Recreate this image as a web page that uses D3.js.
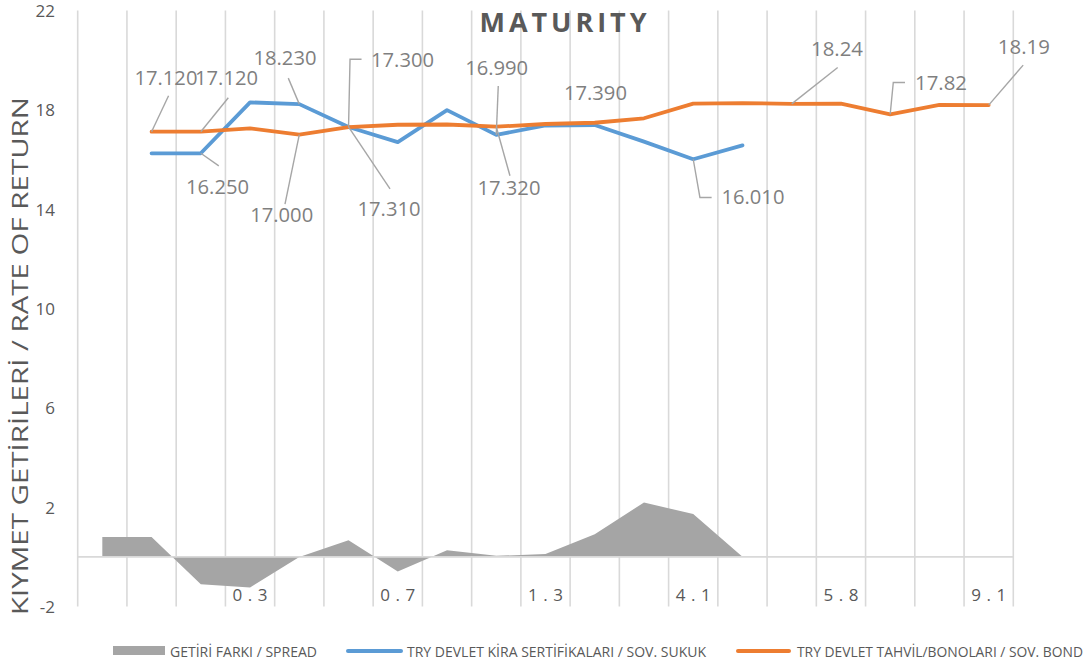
<!DOCTYPE html>
<html><head><meta charset="utf-8">
<script src="https://cdn.jsdelivr.net/npm/d3@7"></script>
<style>
html,body{margin:0;padding:0;background:#fff;}
svg{display:block;font-family:"Open Sans","Noto Sans",sans-serif;}
</style></head>
<body>
<svg id="chart" width="1086" height="663"></svg>
<script>
// ---- data ----
const categoryLabels = ["", "", "", "0.3", "", "", "0.7", "", "", "1.3", "", "", "4.1", "", "", "5.8", "", "", "9.1"];
const spread = [0.80, 0.80, -1.10, -1.23, -0.01, 0.67, -0.59, 0.27, 0.04, 0.11, 0.91, 2.19, 1.72, 0, null, null, null, null, null];
const sukuk  = [null, 16.25, 16.25, 18.30, 18.23, 17.31, 16.70, 17.99, 16.99, 17.37, 17.39, 16.72, 16.01, 16.57, null, null, null, null, null];
const bond   = [null, 17.12, 17.12, 17.25, 17.00, 17.30, 17.40, 17.41, 17.32, 17.43, 17.48, 17.66, 18.25, 18.27, 18.24, 18.25, 17.82, 18.20, 18.19];
const yTicks = [-2, 2, 6, 10, 14, 18, 22];
const seriesNames = ["GETİRİ FARKI / SPREAD", "TRY DEVLET KİRA SERTİFİKALARI / SOV. SUKUK", "TRY DEVLET TAHVİL/BONOLARI / SOV. BOND"];
const titleText = "MATURITY";
const yTitle = "KIYMET GETİRİLERİ / RATE OF RETURN";
// data label layout: which point, text offset and leader path (offsets from point)
const dataLabels = [
  {s:"bond",  i:1,  dec:3, dx:14.4, dy:-46.5, leader:[[17,-36]]},
  {s:"bond",  i:2,  dec:3, dx:25.7, dy:-46.5, leader:[[27.5,-34]]},
  {s:"sukuk", i:2,  dec:3, dx:16.7, dy:41,    leader:[[18,12.6]]},
  {s:"sukuk", i:4,  dec:3, dx:-14.3,dy:-39.3, leader:[[-11,-26]]},
  {s:"bond",  i:4,  dec:3, dx:-17.6,dy:87.5,  leader:[[-14.3,69.5]]},
  {s:"bond",  i:5,  dec:3, dx:54,   dy:-60,   leader:[[1.5,-68],[13,-68]]},
  {s:"sukuk", i:5,  dec:3, dx:40.5, dy:89,    leader:[[41.5,62]]},
  {s:"sukuk", i:8,  dec:3, dx:0.4,  dy:-59.7, leader:[[2,-49]]},
  {s:"bond",  i:8,  dec:3, dx:12.7, dy:68.4,  leader:[[13.7,49]]},
  {s:"sukuk", i:10, dec:3, dx:0.7,  dy:-25.2, leader:[]},
  {s:"sukuk", i:12, dec:3, dx:59.7, dy:45,    leader:[[6.7,38.2],[18.4,38.2]]},
  {s:"bond",  i:14, dec:2, dx:45.3, dy:-48,   leader:[[46,-36.4]]},
  {s:"bond",  i:16, dec:2, dx:50.8, dy:-24,   leader:[[3.1,-31.8],[14.8,-31.8]]},
  {s:"bond",  i:18, dec:2, dx:35.2, dy:-51,   leader:[[34.5,-40]]}
];

// ---- layout ----
const svg = d3.select("#chart");
const pLeft = 77.7, pRight = 1013.3, pTop = 10.5, pBottom = 606.5;
const idx = d3.range(categoryLabels.length);
const x = d3.scaleBand().domain(idx).range([pLeft, pRight]).padding(0);
const cx = i => x(i) + x.bandwidth() / 2;
const y = d3.scaleLinear().domain([-2, 22]).range([pBottom, pTop]);
const C = {grid:"#d9d9d9", text:"#595959", label:"#7f7f7f", leader:"#a6a6a6",
           spread:"#a5a5a5", sukuk:"#5b9bd5", bond:"#ed7d31"};

// vertical gridlines at band edges
const edges = idx.map(i => x(i)).concat([pRight]);
svg.append("g").selectAll("line").data(edges).join("line")
  .attr("x1", d => d).attr("x2", d => d).attr("y1", pTop).attr("y2", pBottom)
  .attr("stroke", C.grid).attr("stroke-width", 1.6);

// area (spread)
const area = d3.area().defined(d => d.v !== null)
  .x(d => cx(d.i)).y0(y(0)).y1(d => y(d.v));
svg.append("path").datum(spread.map((v, i) => ({i, v})))
  .attr("d", area).attr("fill", C.spread);

// zero line
svg.append("line").attr("x1", pLeft).attr("x2", pRight).attr("y1", y(0)).attr("y2", y(0))
  .attr("stroke", C.grid).attr("stroke-width", 1.6);

// y axis ticks (labels only)
const yAxis = d3.axisLeft(y).tickValues(yTicks).tickSize(0).tickPadding(0).tickFormat(d => String(d));
const gy = svg.append("g").attr("transform", "translate(55,0)").call(yAxis);
gy.select(".domain").remove();
gy.selectAll("text").attr("fill", C.text).style("font-size", "17px")
  .style("font-family", "'Open Sans',sans-serif").attr("dy", "0.35em");

// x axis labels
const xAxis = d3.axisBottom(x).tickSize(0).tickPadding(0).tickFormat(i => categoryLabels[i]);
const gx = svg.append("g").attr("transform", `translate(0,${pBottom - 6})`).call(xAxis);
gx.select(".domain").remove();
gx.selectAll("text").attr("fill", C.text).style("font-size", "17px")
  .style("font-family", "'Open Sans',sans-serif").attr("dy", 0)
  .each(function(i){ if (categoryLabels[i]) { d3.select(this).attr("textLength", 35).attr("lengthAdjust", "spacing"); } });

// lines
const line = d3.line().defined(d => d.v !== null).x(d => cx(d.i)).y(d => y(d.v));
const seriesData = {sukuk, bond};
[["sukuk", C.sukuk], ["bond", C.bond]].forEach(([k, col]) => {
  svg.append("path").datum(seriesData[k].map((v, i) => ({i, v})))
    .attr("d", line).attr("fill", "none").attr("stroke", col).attr("stroke-width", 3.8)
    .attr("stroke-linejoin", "round").attr("stroke-linecap", "round");
});

// data labels with leader lines
const gl = svg.append("g");
dataLabels.forEach(L => {
  const v = seriesData[L.s][L.i];
  const px = cx(L.i), py = y(v);
  if (L.leader.length) {
    const pts = [[px, py]].concat(L.leader.map(([ox, oy]) => [px + ox, py + oy]));
    gl.append("path").attr("d", d3.line()(pts)).attr("fill", "none")
      .attr("stroke", C.leader).attr("stroke-width", 1.4);
  }
  const txt = v.toFixed(L.dec);
  gl.append("text").attr("x", px + L.dx).attr("y", py + L.dy)
    .attr("text-anchor", "middle").attr("fill", C.label)
    .style("font-size", "20px")
    .attr("textLength", txt.length === 6 ? 63 : 52).attr("lengthAdjust", "spacingAndGlyphs")
    .text(txt);
});

// title
svg.append("text").attr("x", 563).attr("y", 32).attr("text-anchor", "middle")
  .attr("fill", C.text).style("font-size", "27px").style("font-weight", "bold")
  .attr("textLength", 167).attr("lengthAdjust", "spacing").text(titleText);

// y title
svg.append("text").attr("transform", "translate(28,356) rotate(-90)")
  .attr("text-anchor", "middle").attr("fill", C.text).style("font-size", "21px")
  .attr("textLength", 518).attr("lengthAdjust", "spacingAndGlyphs").text(yTitle);

// legend
const legendItems = [
  {name: seriesNames[0], type: "rect", col: C.spread, sx: 113, sw: 52, tx: 170, tw: 147},
  {name: seriesNames[1], type: "line", col: C.sukuk,  sx: 348, sw: 53, tx: 407, tw: 299},
  {name: seriesNames[2], type: "line", col: C.bond,   sx: 738, sw: 51, tx: 797, tw: 286}
];
const lg = svg.append("g");
legendItems.forEach(it => {
  if (it.type === "rect") {
    lg.append("rect").attr("x", it.sx).attr("y", 646).attr("width", it.sw).attr("height", 9).attr("fill", it.col);
  } else {
    lg.append("line").attr("x1", it.sx).attr("x2", it.sx + it.sw).attr("y1", 651).attr("y2", 651)
      .attr("stroke", it.col).attr("stroke-width", 4).attr("stroke-linecap", "round");
  }
  lg.append("text").attr("x", it.tx).attr("y", 656.5).attr("fill", C.text)
    .style("font-size", "14px").attr("textLength", it.tw).attr("lengthAdjust", "spacingAndGlyphs")
    .text(it.name);
});
</script>
</body></html>
